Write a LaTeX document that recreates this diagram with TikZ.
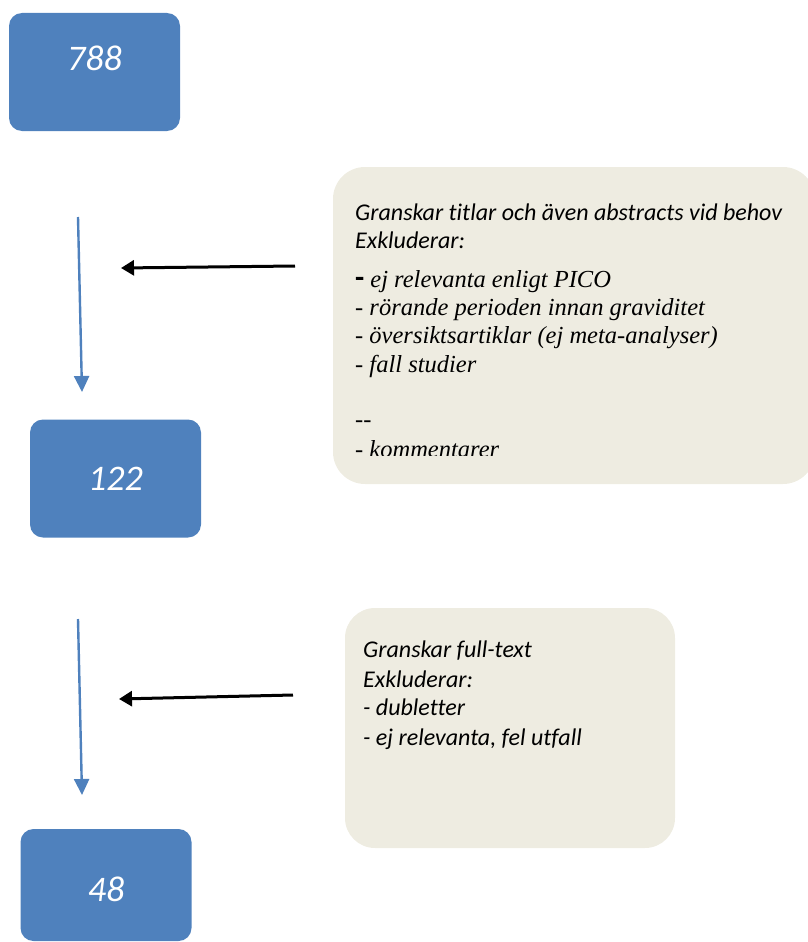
\documentclass[tikz,border=0pt]{standalone}
\usepackage{fontspec}
\setmainfont{Carlito}[Ligatures=NoCommon]
\newfontfamily\serifit{Liberation Serif}
\usetikzlibrary{arrows.meta}
\definecolor{boxblue}{HTML}{4F81BD}
\definecolor{beige}{HTML}{EEECE1}
\begin{document}
\begin{tikzpicture}[x=1pt,y=-1pt,
  numbox/.style={fill=boxblue, rounded corners=13pt, minimum width=171pt, minimum height=118pt,
    inner sep=0pt, text=white, font=\fontsize{36}{40}\selectfont\itshape},
  notebox/.style={fill=beige, inner sep=0pt},
  txt/.style={anchor=base west, inner sep=0pt, font=\fontsize{24}{28}\selectfont\itshape},
  stxt/.style={anchor=base west, inner sep=0pt, font=\fontsize{24.5}{28}\selectfont\serifit\itshape},
  flow/.style={draw=boxblue, line width=2.4pt, -{Triangle[length=16pt,width=15pt]}},
  excl/.style={draw=black, line width=3pt, -{Triangle[length=13pt,width=15pt]}}]
\useasboundingbox (0,0) rectangle (807,942);

% blue boxes
\node[numbox, text depth=28pt] (n788) at (94.5,72) {788};
\node[numbox] (n122) at (115.5,478.5) {122};
\node[numbox, text height=34pt, minimum height=112pt] (n48) at (106,885) {48};

% beige boxes
\node[notebox, rounded corners=32pt, minimum width=482pt, minimum height=317pt] (c1) at (574,325.5) {};
\node[notebox, rounded corners=30pt, minimum width=330pt, minimum height=240pt] (c2) at (510,728) {};

% text of first box
\node[txt] (c1a) at (355,220) {Granskar titlar och även abstracts vid behov};
\node[txt] (c1b) at (355,248) {Exkluderar:};
\node[stxt] (c1c) at (355,287) {{\fontsize{30}{30}\selectfont\upshape\rmfamily\bfseries -}\hspace{6pt}ej relevanta enligt PICO};
\node[stxt] (c1d) at (355,315) {- rörande perioden innan graviditet};
\node[stxt] (c1e) at (355,343) {- översiktsartiklar (ej meta-analyser)};
\node[stxt] (c1f) at (355,372) {- fall studier};
\node[stxt] (c1g) at (355,427) {-{}-};
\begin{scope}
  \clip (333,430) rectangle (807,455);
  \node[stxt] (c1h) at (355,457) {- kommentarer};
\end{scope}

% text of second box
\node[txt] (c2a) at (363,657) {Granskar full-text};
\node[txt] (c2b) at (363,687) {Exkluderar:};
\node[txt] (c2c) at (363,715) {- dubletter};
\node[txt] (c2d) at (363,745) {- ej relevanta, fel utfall};

% connectors
\coordinate (f1s) at (78,217);
\coordinate (f1e) at (82,392);
\coordinate (f2s) at (78,619);
\coordinate (f2e) at (82,795);
\coordinate (e1s) at (295,266);
\coordinate (e1e) at (121,268);
\coordinate (e2s) at (293,695);
\coordinate (e2e) at (119,699);
\draw[flow] (f1s) -- (f1e);
\draw[flow] (f2s) -- (f2e);
\draw[excl] (e1s) -- (e1e);
\draw[excl] (e2s) -- (e2e);
\end{tikzpicture}
\end{document}
